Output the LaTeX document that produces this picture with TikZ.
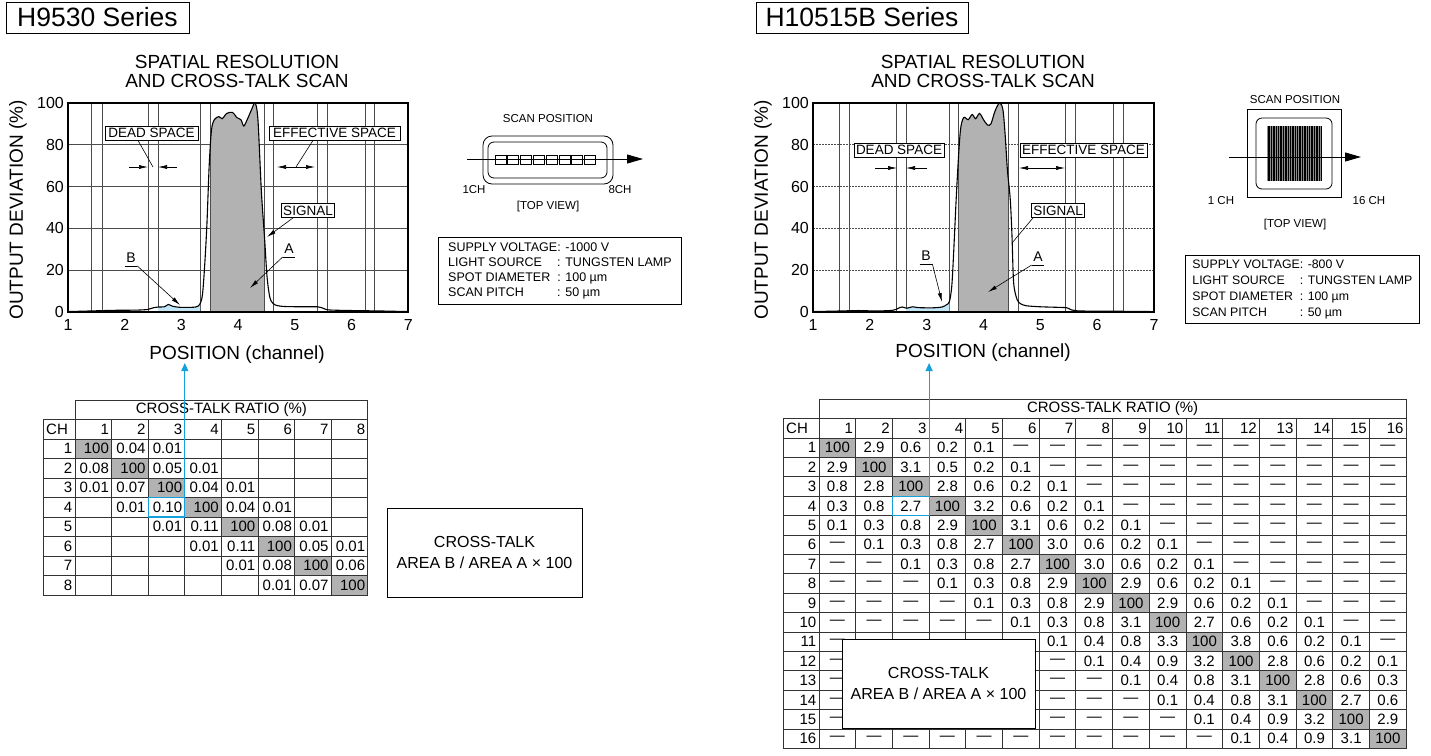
\documentclass[tikz,border=0pt]{standalone}
\usepackage{fontspec}
\setmainfont{Liberation Sans}
\usetikzlibrary{arrows.meta}

\definecolor{cinza}{RGB}{178,178,178}
\definecolor{azul}{RGB}{20,160,220}
\definecolor{azulclaro}{RGB}{195,230,247}
\newcommand{\nd}{\textemdash}

\tikzset{
  serie/.style={draw, line width=0.9pt, minimum height=31, font=\fontsize{26.5}{30}\selectfont},
  titulo/.style={align=center, inner sep=0pt, font=\fontsize{19}{19}\selectfont},
  eixo/.style={inner sep=0pt, font=\fontsize{19}{19}\selectfont},
  marca/.style={inner sep=0pt, font=\fontsize{16}{16}\selectfont},
  rotulo/.style={draw, fill=white, line width=0.8pt, minimum height=14, inner xsep=2pt, inner ysep=0pt, font=\fontsize{13.5}{13.5}\selectfont},
  letra/.style={inner xsep=0pt, inner ysep=3pt, font=\fontsize{14}{14}\selectfont},
  pequeno/.style={inner sep=0pt, font=\fontsize{11.5}{11.5}\selectfont},
  caixa/.style={draw, line width=0.8pt, anchor=north west, inner sep=0pt},
  tab/.style={inner sep=0pt, font=\fontsize{15}{15}\selectfont},
  linhatab/.style={line width=0.9pt, black!80},
  grade/.style={line width=0.8pt, black!70},
  moldura/.style={line width=1.6pt},
  curva/.style={line width=1.1pt},
  guia/.style={line width=0.6pt},
  seta/.style={line width=0.6pt, -{Latex[length=9pt,width=4pt]}},
  seta2/.style={line width=0.6pt, {Latex[length=9pt,width=4pt]}-{Latex[length=9pt,width=4pt]}},
  setascan/.style={line width=0.9pt, -{Triangle[length=16pt,width=9pt]}},
  setaazul/.style={azul, line width=1pt, -{Triangle[length=8pt,width=7pt]}},
}

\begin{document}
\begin{tikzpicture}[x=1pt, y=-1pt]
  \useasboundingbox (0,0) rectangle (1431,755);

  % Curvas (canal, %)
  \def\curvaE{plot[smooth, tension=0.5] coordinates {(1,0.2) (1.4,0.5) (1.8,0.8) (2.2,0.9) (2.4,1.2) (2.5,2) (2.6,2.4) (2.7,2.5) (2.77,3.6) (2.84,2.8) (2.95,2.3) (3.1,2.2) (3.25,2.4) (3.32,3.5) (3.37,8) (3.41,22) (3.45,42) (3.49,70) (3.53,87) (3.58,92) (3.66,93.5) (3.72,92.5) (3.8,95) (3.9,95.5) (3.98,93) (4.05,92) (4.1,89) (4.16,92) (4.24,97) (4.3,100) (4.35,92) (4.41,58) (4.47,34) (4.51,17) (4.56,7) (4.62,4) (4.7,3) (4.85,2.6) (5.2,2.5) (5.4,2.5) (5.5,1.8) (5.6,1.0) (6,0.7) (6.5,0.5) (7,0.2)}}
  \def\curvaD{plot[smooth, tension=0.5] coordinates {(1,0.2) (1.5,0.5) (1.8,0.7) (2.1,0.5) (2.4,0.8) (2.5,1.8) (2.57,2.4) (2.65,1.8) (2.75,2.5) (2.85,2.1) (3.1,2.0) (3.27,2.4) (3.35,3.5) (3.4,5) (3.44,12) (3.47,26) (3.53,60) (3.59,86) (3.65,93) (3.73,92) (3.8,94.5) (3.86,92.5) (3.93,95) (4.0,92) (4.07,89.5) (4.13,90) (4.2,96) (4.28,100) (4.34,97) (4.38,85) (4.42,68) (4.47,54) (4.5,37) (4.53,14) (4.59,6) (4.65,4) (4.75,3) (5.0,2.5) (5.35,2.2) (5.47,2) (5.55,1) (5.7,0.5) (6.2,0.4) (7,0.2)}}

  % ===== H9530 =====
  \node[serie, minimum width=183] (serieE) at (97.5,17.5) {H9530 Series};
  \node[titulo] (tituloE) at (237,71.5) {SPATIAL RESOLUTION\\AND CROSS-TALK SCAN};

  \begin{scope}[shift={(11.3,312)}, x=56.7pt, y=2.09pt]
    % Grade
    \foreach \v in {20,40,60,80} \draw[grade] (1,\v) -- (7,\v);
    \foreach \c in {1.42,1.60,2.41,2.59,3.33,3.52,4.46,4.63,5.39,5.57,6.24,6.41}
      \draw[grade] (\c,0) -- (\c,100);
    % Areas A e B
    \begin{scope}
      \clip (2.59,0) rectangle (3.33,100);
      \fill[azulclaro] \curvaE -- (7,0) -- (1,0) -- cycle;
    \end{scope}
    \begin{scope}
      \clip (3.52,0) rectangle (4.46,101);
      \fill[cinza] \curvaE -- (7,0) -- (1,0) -- cycle;
    \end{scope}
    \draw[grade] (3.52,0) -- (3.52,100) (4.46,0) -- (4.46,100);
    \draw[curva] \curvaE;
    \draw[moldura] (1,0) rectangle (7,100);
    % Eixos
    \foreach \v in {0,20,...,100} \node[marca, anchor=east] (yl\v) at (0.93,\v) {\v};
    \foreach \c in {1,...,7} \node[marca] (xl\c) at (\c,-6.2) {\c};
  \end{scope}
  \node[eixo, rotate=90] (yeixoE) at (18,210) {OUTPUT DEVIATION (\%)};
  \node[eixo] (xeixoE) at (237,355) {POSITION (channel)};

  % Rotulos
  \node[rotulo, minimum width=93] (dsE) at (151.5,133) {DEAD SPACE};
  \node[rotulo, minimum width=131] (esE) at (334.5,133) {EFFECTIVE SPACE};
  \node[rotulo] (sgE) at (308,210.5) {SIGNAL};
  \node[letra] (aE) at (289,249) {A};
  \node[letra] (bE) at (131,258) {B};
  \coordinate (dsE1) at (129,167); \coordinate (dsE2) at (148,167);
  \coordinate (dsE3) at (177,167); \coordinate (dsE4) at (158,167);
  \coordinate (dsEp) at (153,167);
  \coordinate (esE1) at (277,167); \coordinate (esE2) at (315,167);
  \coordinate (esEp) at (296,167);
  \coordinate (sgEp) at (267,237);
  \coordinate (aEp) at (250,288);
  \coordinate (bEp) at (180,305);
  \draw[seta] (dsE1) -- (dsE2);
  \draw[seta] (dsE3) -- (dsE4);
  \draw[guia] ([xshift=-13.5pt]dsE.south) -- (dsEp);
  \draw[seta2] (esE1) -- (esE2);
  \draw[guia] ([xshift=-21.5pt]esE.south) -- (esEp);
  \draw[seta] ([xshift=-15pt]sgE.south) -- (sgEp);
  \draw[guia] ([xshift=-1.5pt]aE.south west) -- ([xshift=1.5pt]aE.south east);
  \draw[seta] ([xshift=-1.5pt]aE.south west) -- (aEp);
  \draw[guia] ([xshift=-1.5pt]bE.south west) -- ([xshift=1.5pt]bE.south east);
  \draw[seta] ([xshift=1.5pt]bE.south east) -- (bEp);

  % Posicao de varredura
  \node[pequeno] (scanE) at (548,119) {SCAN POSITION};
  \draw[line width=0.8pt, rounded corners=9pt] (483,136) rectangle (613,184);
  \draw[line width=0.8pt, rounded corners=6pt] (488,142) rectangle (607,178);
  \foreach \k in {0,...,7} \draw[line width=0.7pt] ({495+12.8*\k},155) rectangle ++(11,9);
  \coordinate (scanE1) at (467,159); \coordinate (scanE2) at (643,159);
  \draw[setascan] (scanE1) -- (scanE2);
  \node[pequeno] (chE1) at (474,190) {1CH};
  \node[pequeno] (chE8) at (620,190) {8CH};
  \node[pequeno] (topoE) at (548,207) {[TOP VIEW]};

  \node[caixa, minimum width=243, minimum height=67, font=\fontsize{12.5}{15}\selectfont] (infoE) at (438,237)
    {\begin{tabular}{@{}l@{}l@{}}
      SUPPLY VOLTAGE&: -1000 V\\
      LIGHT SOURCE&: TUNGSTEN LAMP\\
      SPOT DIAMETER&: 100 µm\\
      SCAN PITCH&: 50 µm
    \end{tabular}};

  % Tabela de cross-talk (8 CH)
  \foreach \k in {1,...,8} \fill[cinza] ({75+36.6*(\k-1)},{439+19.5*(\k-1)}) rectangle ++(36.6,19.5);
  \draw[linhatab] (75,400) rectangle (367.8,419);
  \draw[linhatab] (43,419) rectangle (367.8,595);
  \foreach \k in {0,...,7} \draw[linhatab] (43,{439+19.5*\k}) -- (367.8,{439+19.5*\k});
  \foreach \k in {0,...,7} \draw[linhatab] ({75+36.6*\k},419) -- ({75+36.6*\k},595);
  \node[tab] (razaoE) at (221.4,409.5) {CROSS-TALK RATIO (\%)};
  \node[tab, anchor=west] (chE) at (46,429) {CH};
  \foreach \c in {1,...,8} \node[tab, anchor=east] (hE\c) at ({75+36.6*\c-2.5},429) {\c};
  \foreach \r in {1,...,8} \node[tab, anchor=east] (rE\r) at (72.5,{439+19.5*(\r-0.5)}) {\r};
  \foreach \r/\s/\vals in {1/1/{100,0.04,0.01}, 2/1/{0.08,100,0.05,0.01}, 3/1/{0.01,0.07,100,0.04,0.01},
      4/2/{0.01,0.10,100,0.04,0.01}, 5/3/{0.01,0.11,100,0.08,0.01}, 6/4/{0.01,0.11,100,0.05,0.01},
      7/5/{0.01,0.08,100,0.06}, 8/6/{0.01,0.07,100}}
    \foreach \v [count=\c from \s] in \vals
      \node[tab, anchor=east] (E\r-\c) at ({75+36.6*\c-2.5},{439+19.5*(\r-0.5)}) {\v};
  \draw[azul, line width=1.2pt] ({75+36.6*2},{439+19.5*3}) rectangle ++(36.6,19.5);
  \coordinate (azulE0) at ({75+36.6*3},{439+19.5*3});
  \coordinate (azulE1) at ({75+36.6*3},363);
  \draw[setaazul] (azulE0) -- (azulE1);

  \node[draw, line width=0.8pt, minimum width=195, minimum height=89, align=center,
        font=\fontsize{16}{21}\selectfont] (ctE) at (484.5,552.5) {CROSS-TALK\\AREA B / AREA A × 100};

  % ===== H10515B =====
  \node[serie, minimum width=212] (serieD) at (862,17.5) {H10515B Series};
  \node[titulo] (tituloD) at (983,71.5) {SPATIAL RESOLUTION\\AND CROSS-TALK SCAN};

  \begin{scope}[shift={(756.2,312)}, x=56.83pt, y=2.09pt]
    % Grade
    \foreach \v in {20,40,60,80} \draw[grade, dash pattern=on 1.5pt off 1.5pt] (1,\v) -- (7,\v);
    \foreach \c in {1.47,1.64,2.46,2.64,3.40,3.56,4.44,4.62,5.44,5.62,6.28,6.46}
      \draw[grade] (\c,0) -- (\c,100);
    % Areas A e B
    \begin{scope}
      \clip (2.64,0) rectangle (3.40,100);
      \fill[azulclaro] \curvaD -- (7,0) -- (1,0) -- cycle;
    \end{scope}
    \begin{scope}
      \clip (3.56,0) rectangle (4.44,101);
      \fill[cinza] \curvaD -- (7,0) -- (1,0) -- cycle;
    \end{scope}
    \draw[grade] (3.56,0) -- (3.56,100) (4.44,0) -- (4.44,100);
    \draw[curva] \curvaD;
    \draw[moldura] (1,0) rectangle (7,100);
    % Eixos
    \foreach \v in {0,20,...,100} \node[marca, anchor=east] (yr\v) at (0.93,\v) {\v};
    \foreach \c in {1,...,7} \node[marca] (xr\c) at (\c,-6.2) {\c};
  \end{scope}
  \node[eixo, rotate=90] (yeixoD) at (763,210) {OUTPUT DEVIATION (\%)};
  \node[eixo] (xeixoD) at (983,353) {POSITION (channel)};

  % Rotulos
  \node[rotulo, minimum width=90] (dsD) at (899,150) {DEAD SPACE};
  \node[rotulo, minimum width=121] (esD) at (1083.5,150) {EFFECTIVE SPACE};
  \node[rotulo] (sgD) at (1058,210.5) {SIGNAL};
  \node[letra] (aD) at (1038,257) {A};
  \node[letra] (bD) at (926,256) {B};
  \coordinate (dsD1) at (875,168); \coordinate (dsD2) at (897,168);
  \coordinate (dsD3) at (927,168); \coordinate (dsD4) at (906,168);
  \coordinate (esD1) at (1019,168); \coordinate (esD2) at (1065,168);
  \coordinate (sgDp) at (1012,243);
  \coordinate (aDp) at (988,292);
  \coordinate (bDp) at (942,302);
  \draw[seta] (dsD1) -- (dsD2);
  \draw[seta] (dsD3) -- (dsD4);
  \draw[seta2] (esD1) -- (esD2);
  \draw[guia] ([xshift=-25pt]sgD.south) -- (sgDp);
  \draw[guia] ([xshift=-1.5pt]aD.south west) -- ([xshift=1.5pt]aD.south east);
  \draw[seta] ([xshift=-1.5pt]aD.south west) -- (aDp);
  \draw[guia] ([xshift=-1.5pt]bD.south west) -- ([xshift=1.5pt]bD.south east);
  \draw[seta] ([xshift=1.5pt]bD.south east) -- (bDp);

  % Posicao de varredura
  \node[pequeno] (scanD) at (1295,100) {SCAN POSITION};
  \draw[line width=0.8pt] (1247,109) rectangle (1341,197);
  \draw[line width=0.8pt, rounded corners=6pt] (1256,118) rectangle (1332,189);
  \fill[black!45] (1267,126) rectangle (1322,181);
  \foreach \k in {0,...,31} \draw[line width=0.5pt] ({1267.8+1.72*\k},126) -- ++(0,55);
  \coordinate (scanD1) at (1229,157); \coordinate (scanD2) at (1361,157);
  \draw[setascan] (scanD1) -- (scanD2);
  \node[pequeno] (chD1) at (1221,201) {1 CH};
  \node[pequeno] (chD16) at (1369,201) {16 CH};
  \node[pequeno] (topoD) at (1295,225) {[TOP VIEW]};

  \node[caixa, minimum width=234, minimum height=68, font=\fontsize{12.3}{16}\selectfont] (infoD) at (1185,255)
    {\begin{tabular}{@{}l@{}l@{}}
      SUPPLY VOLTAGE&: -800 V\\
      LIGHT SOURCE&: TUNGSTEN LAMP\\
      SPOT DIAMETER&: 100 µm\\
      SCAN PITCH&: 50 µm
    \end{tabular}};

  % Tabela de cross-talk (16 CH)
  \foreach \k in {1,...,16} \fill[cinza] ({819+36.7*(\k-1)},{438+19.4*(\k-1)}) rectangle ++(36.7,19.4);
  \draw[linhatab] (819,399) rectangle (1406.2,418);
  \draw[linhatab] (783,418) rectangle (1406.2,748.4);
  \foreach \k in {0,...,15} \draw[linhatab] (783,{438+19.4*\k}) -- (1406.2,{438+19.4*\k});
  \foreach \k in {0,...,15} \draw[linhatab] ({819+36.7*\k},418) -- ({819+36.7*\k},748.4);
  \node[tab] (razaoD) at (1112.6,408.5) {CROSS-TALK RATIO (\%)};
  \node[tab, anchor=west] (chD) at (786,428) {CH};
  \foreach \c in {1,...,16} \node[tab, anchor=east] (hD\c) at ({819+36.7*\c-2.5},428) {\c};
  \foreach \r in {1,...,16} \node[tab, anchor=east] (rD\r) at (816.5,{438+19.4*(\r-0.5)}) {\r};
  \foreach \r/\vals in {
      1/{100,2.9,0.6,0.2,0.1,\nd,\nd,\nd,\nd,\nd,\nd,\nd,\nd,\nd,\nd,\nd},
      2/{2.9,100,3.1,0.5,0.2,0.1,\nd,\nd,\nd,\nd,\nd,\nd,\nd,\nd,\nd,\nd},
      3/{0.8,2.8,100,2.8,0.6,0.2,0.1,\nd,\nd,\nd,\nd,\nd,\nd,\nd,\nd,\nd},
      4/{0.3,0.8,2.7,100,3.2,0.6,0.2,0.1,\nd,\nd,\nd,\nd,\nd,\nd,\nd,\nd},
      5/{0.1,0.3,0.8,2.9,100,3.1,0.6,0.2,0.1,\nd,\nd,\nd,\nd,\nd,\nd,\nd},
      6/{\nd,0.1,0.3,0.8,2.7,100,3.0,0.6,0.2,0.1,\nd,\nd,\nd,\nd,\nd,\nd},
      7/{\nd,\nd,0.1,0.3,0.8,2.7,100,3.0,0.6,0.2,0.1,\nd,\nd,\nd,\nd,\nd},
      8/{\nd,\nd,\nd,0.1,0.3,0.8,2.9,100,2.9,0.6,0.2,0.1,\nd,\nd,\nd,\nd},
      9/{\nd,\nd,\nd,\nd,0.1,0.3,0.8,2.9,100,2.9,0.6,0.2,0.1,\nd,\nd,\nd},
      10/{\nd,\nd,\nd,\nd,\nd,0.1,0.3,0.8,3.1,100,2.7,0.6,0.2,0.1,\nd,\nd},
      11/{\nd,\nd,\nd,\nd,\nd,\nd,0.1,0.4,0.8,3.3,100,3.8,0.6,0.2,0.1,\nd},
      12/{\nd,\nd,\nd,\nd,\nd,\nd,\nd,0.1,0.4,0.9,3.2,100,2.8,0.6,0.2,0.1},
      13/{\nd,\nd,\nd,\nd,\nd,\nd,\nd,\nd,0.1,0.4,0.8,3.1,100,2.8,0.6,0.3},
      14/{\nd,\nd,\nd,\nd,\nd,\nd,\nd,\nd,\nd,0.1,0.4,0.8,3.1,100,2.7,0.6},
      15/{\nd,\nd,\nd,\nd,\nd,\nd,\nd,\nd,\nd,\nd,0.1,0.4,0.9,3.2,100,2.9},
      16/{\nd,\nd,\nd,\nd,\nd,\nd,\nd,\nd,\nd,\nd,\nd,0.1,0.4,0.9,3.1,100}}
    \foreach \v [count=\c] in \vals {
      % celulas escondidas pela caixa
      \pgfmathtruncatemacro\oculta{(\r>10)*(\r<16)*(\c>1)*(\c<7)}
      \ifnum\oculta=0
        \node[tab] (D\r-\c) at ({819+36.7*(\c-0.5)},{438+19.4*(\r-0.5)}) {\v};
      \fi
    }
  \draw[azul, line width=1.2pt] ({819+36.7*2},{438+19.4*3}) rectangle ++(36.7,19.4);
  \coordinate (azulD0) at ({819+36.7*3},{438+19.4*3});
  \coordinate (azulD1) at ({819+36.7*3},363);
  \draw[setaazul] (azulD0) -- (azulD1);

  \node[draw, fill=white, line width=0.8pt, minimum width=193, minimum height=89, align=center,
        font=\fontsize{16}{21}\selectfont] (ctD) at (938.5,683.5) {CROSS-TALK\\AREA B / AREA A × 100};
\end{tikzpicture}
\end{document}
